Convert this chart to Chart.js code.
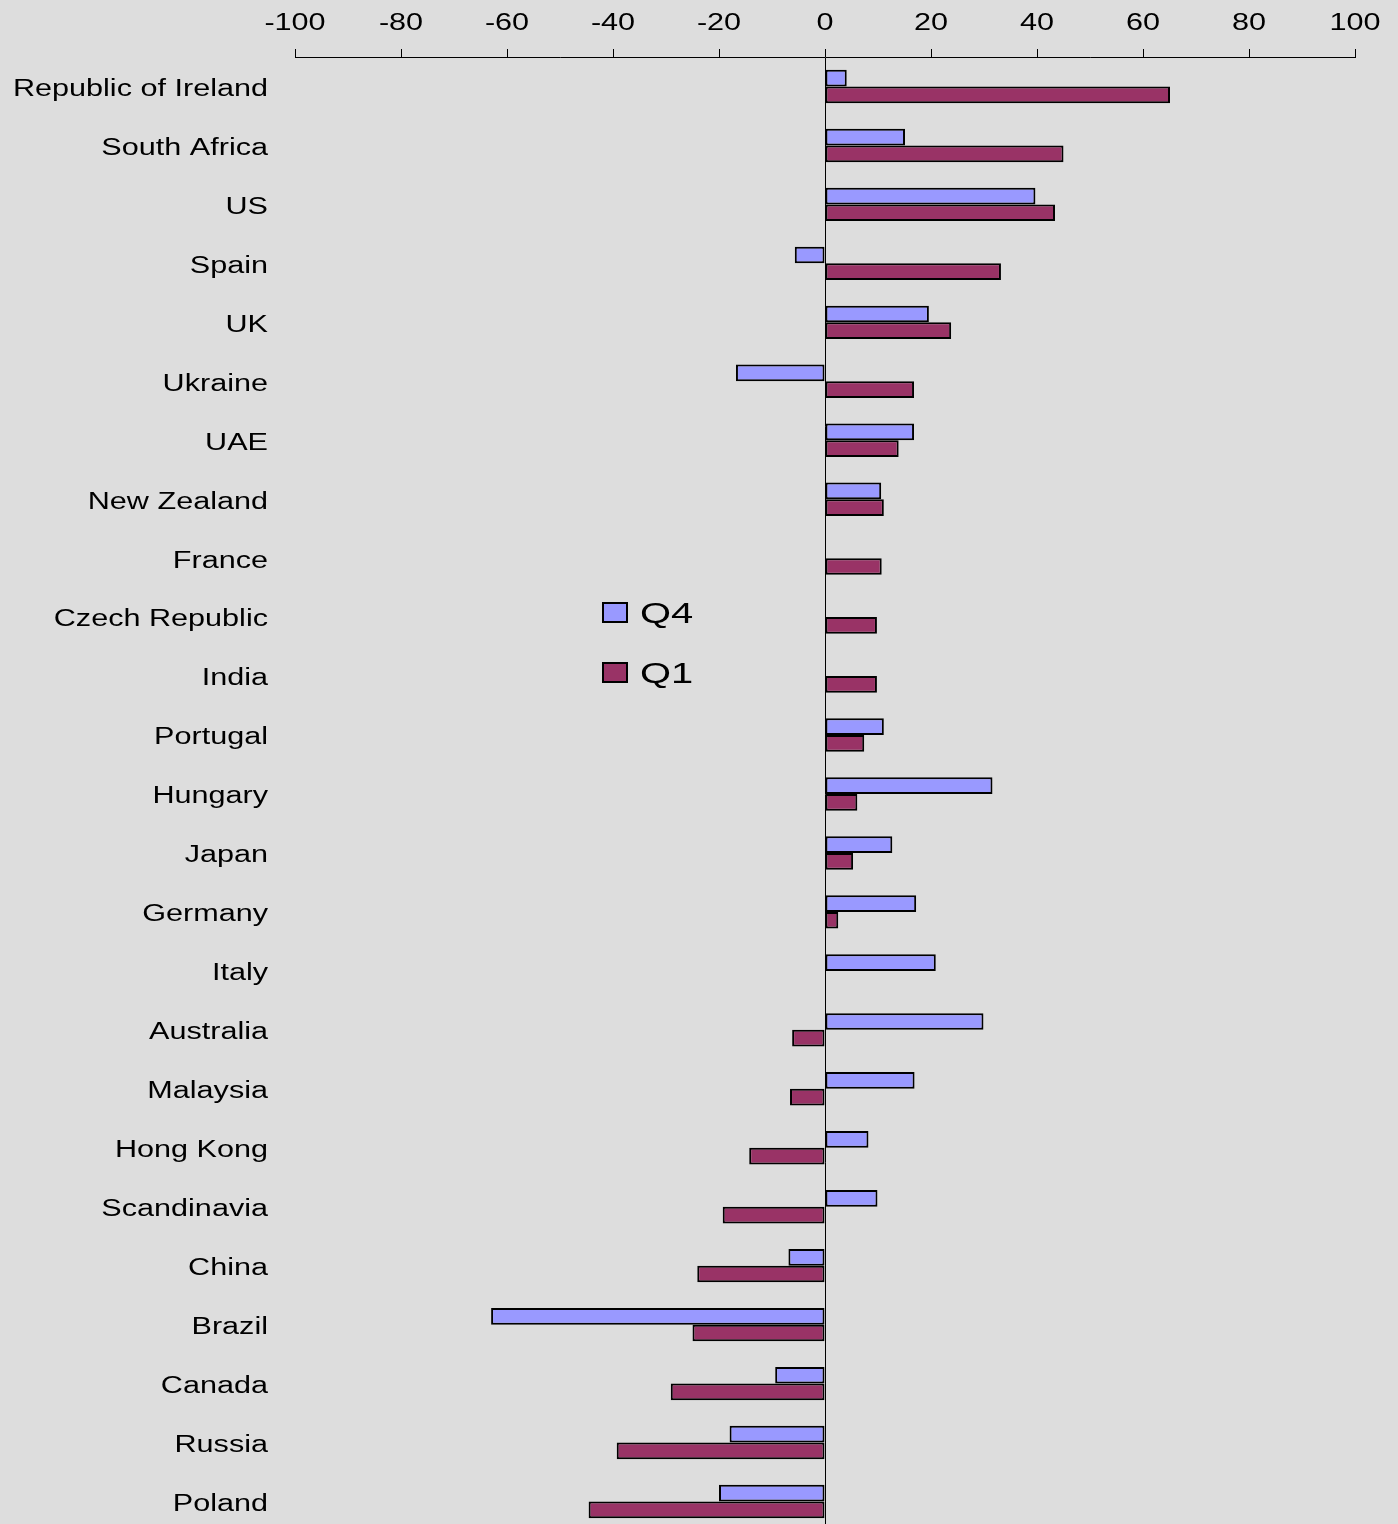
<!DOCTYPE html>
<html>
<head>
<meta charset="utf-8">
<script src="https://cdn.jsdelivr.net/npm/chart.js@4.4.0/dist/chart.umd.min.js"></script>
<style>
  html, body { margin: 0; padding: 0; background: #dddddd; overflow: hidden; }
  #wrap { width: 1398px; height: 1524px; overflow: hidden; }
</style>
</head>
<body>
<div id="wrap"><canvas id="chart" width="1398" height="1531"></canvas></div>
<script>
let countries = ["Republic of Ireland", "South Africa", "US", "Spain", "UK", "Ukraine", "UAE",
  "New Zealand", "France", "Czech Republic", "India", "Portugal", "Hungary", "Japan", "Germany",
  "Italy", "Australia", "Malaysia", "Hong Kong", "Scandinavia", "China", "Brazil", "Canada",
  "Russia", "Poland"];
let q4 = [4.1, 15.1, 39.7, -5.7, 19.6, -16.8, 16.8, 10.6, null, null, null, 11.1, 31.6, 12.7,
  17.2, 20.9, 29.9, 16.9, 8.2, 9.9, -6.9, -63.0, -9.4, -18.0, -20.0];
let q1 = [65.1, 45.0, 43.4, 33.2, 23.8, 16.8, 13.9, 11.1, 10.7, 9.8, 9.8, 7.4, 6.1, 5.3,
  2.5, null, -6.2, -6.6, -14.3, -19.3, -24.1, -25.0, -29.1, -39.3, -44.6];
let axisTicks = [-100, -80, -60, -40, -20, 0, 20, 40, 60, 80, 100];

let colorQ4 = "#9999ff";
let colorQ1 = "#993366";
let fontFamily = "'Liberation Sans', Arial, sans-serif";

// excel draws its text stretched sideways and sitting a little low
const stretch = {
  id: 'stretch',
  beforeInit(chart) {
    const ctx = chart.ctx;
    const orig = ctx.fillText;
    ctx.fillText = function(text, x, y) {
      this.save();
      this.translate(x, y + 3);
      this.scale(1.33, 1);
      orig.call(this, text, 0, 0);
      this.restore();
    };
  }
};

// legend sits inside the plot, left of the zero line
const boxLegend = {
  id: 'boxLegend',
  afterDraw(chart) {
    const ctx = chart.ctx;
    ctx.save();
    ctx.font = '30px ' + fontFamily;
    ctx.textAlign = 'left';
    ctx.textBaseline = 'alphabetic';
    ctx.lineWidth = 2;
    ctx.strokeStyle = '#000';
    chart.data.datasets.forEach(function(ds, i) {
      let top = 603 + i * 60;
      ctx.fillStyle = ds.backgroundColor;
      ctx.fillRect(603, top, 24, 19);
      ctx.strokeRect(603, top, 24, 19);
      ctx.fillStyle = '#000';
      ctx.fillText(ds.label, 640, top + 17);
    });
    ctx.restore();
  }
};

new Chart(document.getElementById("chart"), {
  type: "bar",
  data: {
    labels: countries,
    datasets: [
      { label: "Q4", data: q4, backgroundColor: colorQ4, borderColor: "#000", borderWidth: 2, borderSkipped: false },
      { label: "Q1", data: q1, backgroundColor: colorQ1, borderColor: "#000", borderWidth: 2, borderSkipped: false }
    ]
  },
  options: {
    indexAxis: "y",
    responsive: false,
    devicePixelRatio: 1,
    animation: false,
    layout: { padding: { top: 0, right: 43, bottom: 0, left: 0 } },
    datasets: { bar: { categoryPercentage: 0.566, barPercentage: 1 } },
    plugins: { legend: { display: false }, tooltip: { enabled: false } },
    scales: {
      x: {
        type: "linear",
        position: "top",
        min: -100,
        max: 100,
        afterBuildTicks: function(s) { s.ticks = axisTicks.map(v => ({ value: v })); },
        afterFit: function(s) { s.height = 57; },
        ticks: { color: "#000", font: { family: fontFamily, size: 23 }, padding: 15, maxRotation: 0 },
        grid: {
          color: c => (c.tick && c.tick.value === 0) ? "#000" : "rgba(0,0,0,0)",
          tickColor: "#000",
          tickLength: 8,
          lineWidth: 1
        },
        border: { display: true, color: "#000", width: 1 }
      },
      y: {
        type: "category",
        afterFit: function(s) {
          s.width = 295;
          s.paddingTop = 0;
          s.paddingBottom = 0;
        },
        ticks: { color: "#000", font: { family: fontFamily, size: 23 }, padding: 19, autoSkip: false },
        grid: { display: false },
        border: { display: false }
      }
    }
  },
  plugins: [stretch, boxLegend]
});
</script>
</body>
</html>
